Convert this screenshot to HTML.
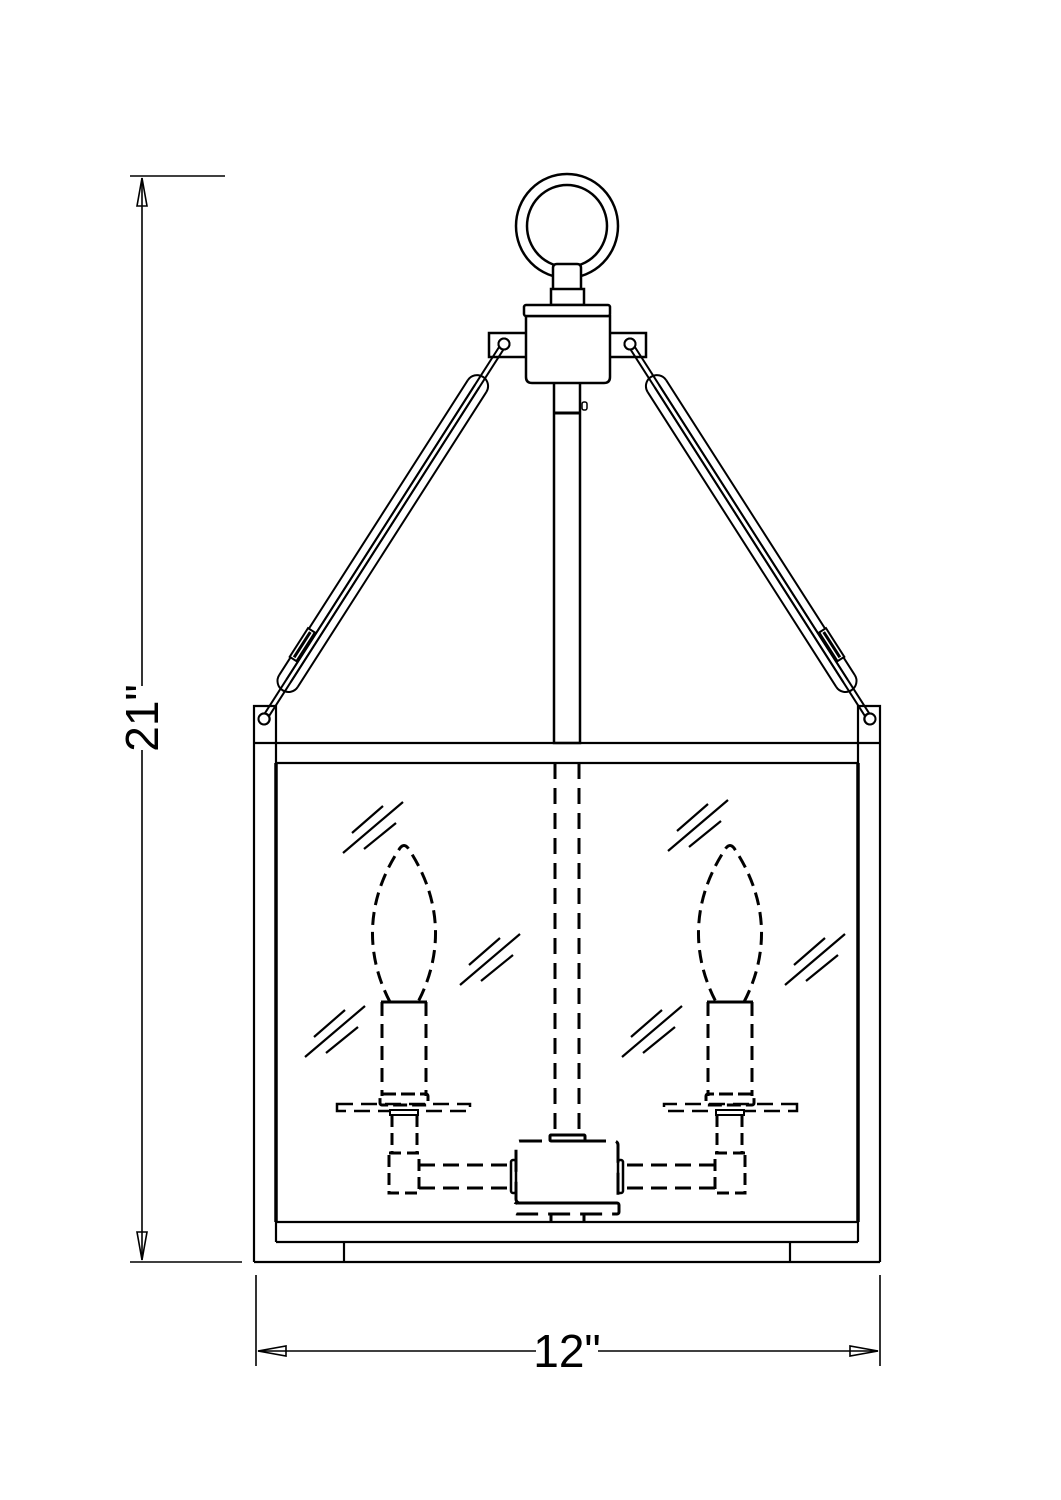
<!DOCTYPE html>
<html><head><meta charset="utf-8"><style>
html,body{margin:0;padding:0;background:#fff;}
svg{display:block;}
text{font-family:"Liberation Sans",sans-serif;}
</style></head><body>
<svg width="1061" height="1500" viewBox="0 0 1061 1500" xmlns="http://www.w3.org/2000/svg">
<defs>
<g id="mark" stroke="#000" stroke-width="2.2" fill="none">
  <line x1="-30" y1="25" x2="30" y2="-26"/>
  <line x1="-21" y1="5" x2="10" y2="-22"/>
  <line x1="-9" y1="21" x2="23" y2="-5"/>
</g>
<g id="arm" stroke="#000" stroke-width="2" fill="#fff">
  <line x1="5" y1="-2.5" x2="440" y2="-2.5"/>
  <line x1="5" y1="2.5" x2="440" y2="2.5"/>
  <path d="M50,-11 L400,-11 M50,11 L400,11 M50,-2.5 L400,-2.5 M50,2.5 L400,2.5" fill="none"/>
  <path d="M50,-11 A11,11 0 0 0 50,11" fill="none"/>
  <path d="M400,-11 A11,11 0 0 1 400,11" fill="none"/>
  <circle cx="0" cy="0" r="5.5"/>
  <circle cx="445" cy="0" r="5.5"/>
  <rect x="345" y="4" width="34" height="8" fill="#fff" stroke-width="2"/>
  <line x1="347" y1="8" x2="377" y2="8" stroke-width="3"/>
</g>
<g id="candle" stroke="#000" stroke-width="3" fill="none">
  <path d="M390,1002 C368,960 362,905 400,848 Q404,843 408,848 C446,905 440,960 418,1002" stroke-dasharray="13,7"/>
  <line x1="381" y1="1002" x2="427" y2="1002"/>
  <line x1="382" y1="1002" x2="382" y2="1096" stroke-dasharray="14,8"/>
  <line x1="426" y1="1002" x2="426" y2="1096" stroke-dasharray="14,8"/>
  <rect x="380" y="1094" width="48" height="11" rx="2" stroke-dasharray="14,5"/>
  <rect x="337" y="1104" width="133" height="7" stroke-width="2.5" stroke-dasharray="16,8"/>
  <rect x="390" y="1110" width="28" height="5" fill="#fff" stroke-width="2"/>
  <line x1="392" y1="1115" x2="392" y2="1152" stroke-dasharray="12,6"/>
  <line x1="417" y1="1115" x2="417" y2="1152" stroke-dasharray="12,6"/>
  <rect x="389" y="1153" width="30" height="40" stroke-dasharray="12,6"/>
  <line x1="419" y1="1165" x2="511" y2="1165" stroke-dasharray="16,8"/>
  <line x1="419" y1="1188" x2="511" y2="1188" stroke-dasharray="16,8"/>
  <rect x="511" y="1160" width="5" height="33" rx="2" stroke-width="2.5"/>
</g>
</defs>

<g stroke="#000" stroke-width="1.6" fill="none">
  <line x1="130" y1="176" x2="225" y2="176"/>
  <line x1="130" y1="1262" x2="242" y2="1262"/>
  <line x1="142" y1="178" x2="142" y2="686"/>
  <line x1="142" y1="750" x2="142" y2="1260"/>
  <path d="M142,178 L137,206 L147,206 Z"/>
  <path d="M142,1260 L137,1232 L147,1232 Z"/>
  <line x1="256" y1="1275" x2="256" y2="1366"/>
  <line x1="880" y1="1275" x2="880" y2="1366"/>
  <line x1="258" y1="1351" x2="536" y2="1351"/>
  <line x1="598" y1="1351" x2="878" y2="1351"/>
  <path d="M258,1351 L286,1346 L286,1356 Z"/>
  <path d="M878,1351 L850,1346 L850,1356 Z"/>
</g>
<text x="0" y="0" font-size="46" transform="translate(158,718) rotate(-90)" text-anchor="middle">21"</text>
<text x="567" y="1367" font-size="46" text-anchor="middle">12"</text>

<g stroke="#000" stroke-width="2.5" fill="none">
  <ellipse cx="567" cy="226" rx="51" ry="52"/>
  <ellipse cx="567" cy="226" rx="40" ry="41"/>
</g>
<path d="M553,305 L553,268 Q553,264 557,264 L577,264 Q581,264 581,268 L581,305 Z" fill="#fff" stroke="#000" stroke-width="2.5"/>
<rect x="551" y="289" width="33" height="16" fill="#fff" stroke="#000" stroke-width="2.5"/>
<rect x="489" y="333" width="157" height="24" fill="#fff" stroke="#000" stroke-width="2.5"/>
<rect x="554" y="370" width="26" height="373" fill="#fff" stroke="#000" stroke-width="2.5"/>
<line x1="554" y1="413" x2="580" y2="413" stroke="#000" stroke-width="3"/>
<rect x="582" y="402" width="5" height="8" rx="2" fill="#fff" stroke="#000" stroke-width="1.5"/>
<path d="M526,316 L526,377 Q526,383 532,383 L604,383 Q610,383 610,377 L610,316 Z" fill="#fff" stroke="#000" stroke-width="2.5"/>
<rect x="524" y="305" width="86" height="11" rx="2" fill="#fff" stroke="#000" stroke-width="2.5"/>

<use href="#arm" transform="translate(504,344) rotate(122.6)"/>
<use href="#arm" transform="translate(1134,0) scale(-1,1) translate(504,344) rotate(122.6)"/>

<g stroke="#000" stroke-width="2.2" fill="none">
  <path d="M254,1262 L254,706 L276,706 L276,1242"/>
  <path d="M880,1262 L880,706 L858,706 L858,1242"/>
  <line x1="254" y1="1262" x2="880" y2="1262"/>
  <line x1="254" y1="743" x2="880" y2="743"/>
  <line x1="276" y1="763" x2="858" y2="763"/>
  <line x1="276" y1="1222" x2="858" y2="1222"/>
  <line x1="276" y1="1242" x2="858" y2="1242"/>
  <line x1="344" y1="1242" x2="344" y2="1262"/>
  <line x1="790" y1="1242" x2="790" y2="1262"/>
</g>
<line x1="276" y1="763" x2="276" y2="1222" stroke="#000" stroke-width="3.5"/>
<line x1="858" y1="763" x2="858" y2="1222" stroke="#000" stroke-width="3.5"/>
<g stroke="#000" stroke-width="2" fill="#fff">
  <circle cx="264" cy="719" r="5.5"/>
  <circle cx="870" cy="719" r="5.5"/>
  <circle cx="504" cy="344" r="5.5"/>
  <circle cx="630" cy="344" r="5.5"/>
</g>

<use href="#mark" transform="translate(373,828)"/>
<use href="#mark" transform="translate(490,960)"/>
<use href="#mark" transform="translate(335,1032)"/>
<use href="#mark" transform="translate(698,826)"/>
<use href="#mark" transform="translate(815,960)"/>
<use href="#mark" transform="translate(652,1032)"/>

<g stroke="#000" stroke-width="3" fill="none">
  <line x1="555" y1="763" x2="555" y2="1135" stroke-dasharray="16,9"/>
  <line x1="579" y1="763" x2="579" y2="1135" stroke-dasharray="16,9"/>
  <rect x="550" y="1135" width="35" height="6" rx="1"/>
  <rect x="516" y="1141" width="102" height="62" rx="4" stroke-dasharray="22,10"/>
  <rect x="515" y="1203" width="104" height="11" rx="2" stroke-dasharray="22,10"/>
  <line x1="551" y1="1214" x2="551" y2="1222"/>
  <line x1="584" y1="1214" x2="584" y2="1222"/>
</g>

<use href="#candle"/>
<use href="#candle" transform="translate(1134,0) scale(-1,1)"/>
</svg>
</body></html>
